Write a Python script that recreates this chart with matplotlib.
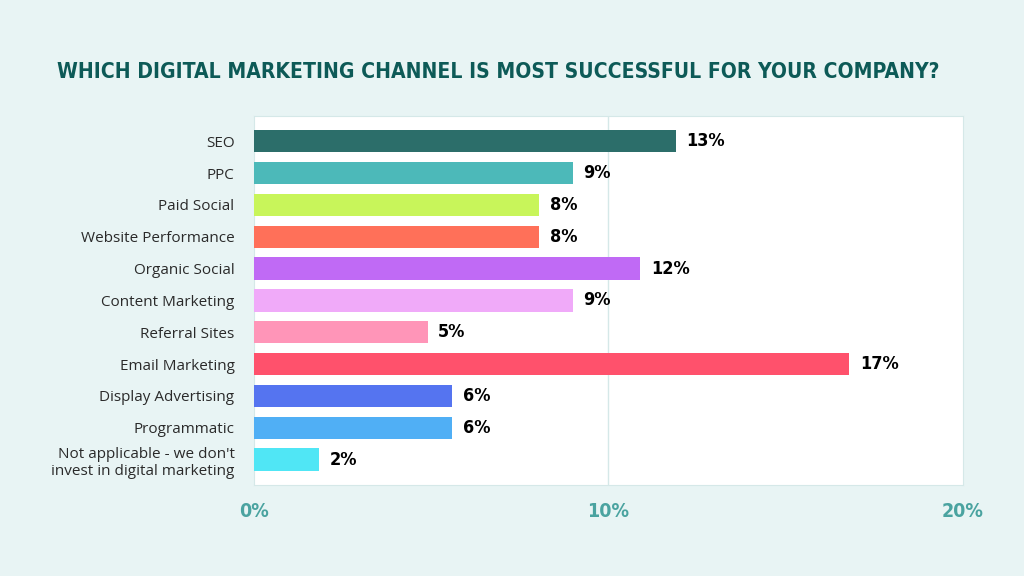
# Horizontal bar chart: most successful digital marketing channel
import matplotlib.pyplot as plt

# data
channels = ["SEO", "PPC", "Paid Social", "Website Performance", "Organic Social",
            "Content Marketing", "Referral Sites", "Email Marketing",
            "Display Advertising", "Programmatic",
            "Not applicable - we don't\ninvest in digital marketing"]
shares = [11.9, 9.0, 8.05, 8.05, 10.9, 9.0, 4.9, 16.8, 5.6, 5.6, 1.85]
value_labels = ["13%", "9%", "8%", "8%", "12%", "9%", "5%", "17%", "6%", "6%", "2%"]
colors = ["#2c6e6a", "#4cb9b9", "#c8f55a", "#ff7059", "#c06af5", "#f0aaf9",
          "#ff95b8", "#ff516c", "#5574f0", "#50aff5", "#50e6f5"]
xticks = [0, 10, 20]
xtick_labels = ["0%", "10%", "20%"]

bg = "#e8f4f4"
cond = dict(family="DejaVu Sans", fontweight="bold", fontstretch="condensed")

fig = plt.figure(figsize=(10.24, 5.76), dpi=100)
fig.patch.set_facecolor(bg)
ax = fig.add_axes([0.248, 0.158, 0.692, 0.641])
ax.set_facecolor("white")

y = list(range(len(channels)))
ax.barh(y, shares, height=0.7, color=colors, zorder=3)
for yi, v, lab in zip(y, shares, value_labels):
    ax.text(v + 0.3, yi, lab, va="center", ha="left", fontsize=13,
            color="black", zorder=4, **cond)

ax.set_xlim(0, 20)
ax.set_ylim(10.8, -0.8)
ax.set_yticks(y)
ax.set_yticklabels(channels, fontsize=11, family="Open Sans", color="#2a2a2a")
ax.set_xticks(xticks)
ax.set_xticklabels(xtick_labels, fontsize=14, color="#4aa3a0", **cond)
ax.tick_params(length=0)
ax.tick_params(axis="y", pad=14)
ax.tick_params(axis="x", pad=12)
ax.axvline(10, color="#d5e8e8", lw=1, zorder=1)
for s in ax.spines.values():
    s.set_color("#d5e8e8")

fig.text(0.4865, 0.875, "WHICH DIGITAL MARKETING CHANNEL IS MOST SUCCESSFUL FOR YOUR COMPANY?",
         fontsize=15.1, color="#0d5a57", ha="center", va="center", **cond)

fig.savefig("out.png", dpi=100, facecolor=bg)
